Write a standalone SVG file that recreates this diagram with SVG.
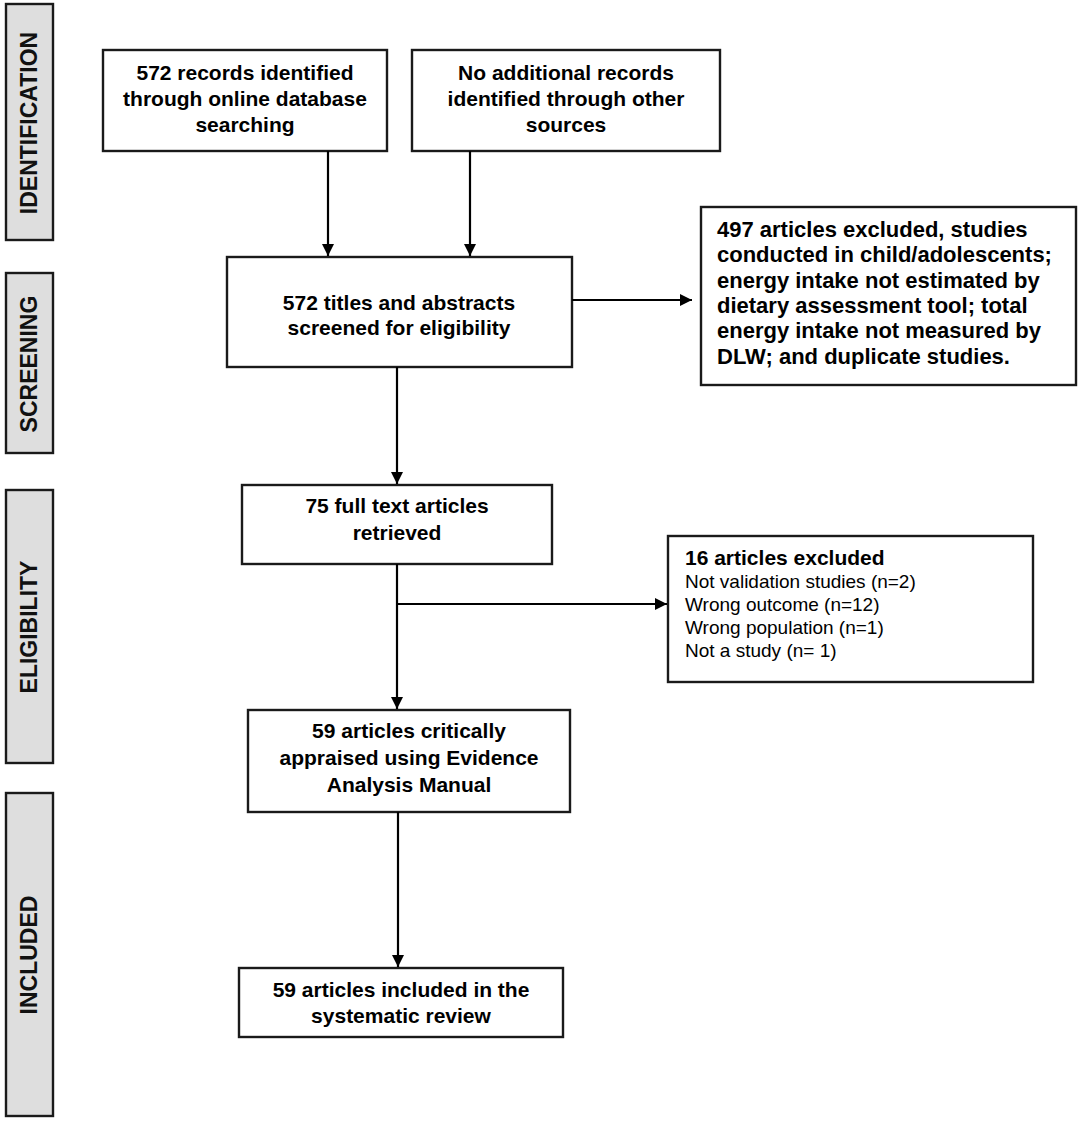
<svg xmlns="http://www.w3.org/2000/svg" width="1084" height="1121" viewBox="0 0 1084 1121">
<defs>
<marker id="ah" viewBox="0 0 12 12" refX="12" refY="6" markerWidth="12" markerHeight="12" markerUnits="userSpaceOnUse" orient="auto">
<path d="M0,0 L12,6 L0,12 Z" fill="#000"/>
</marker>
<style>
.box{fill:#fff;stroke:#1a1a1a;stroke-width:2.4}
.bar{fill:#dedede;stroke:#1a1a1a;stroke-width:2.4}
.t{font-family:"Liberation Sans",Arial,sans-serif;font-weight:bold;font-size:21px;fill:#000;text-anchor:middle}
.tl{font-family:"Liberation Sans",Arial,sans-serif;font-weight:bold;font-size:22px;fill:#000}
.r{font-family:"Liberation Sans",Arial,sans-serif;font-size:19px;fill:#000}
.rb{font-family:"Liberation Sans",Arial,sans-serif;font-weight:bold;font-size:21px;fill:#000}
.lab{font-family:"Liberation Sans",Arial,sans-serif;font-weight:bold;font-size:23px;fill:#111;text-anchor:middle}
.c{fill:none;stroke:#000;stroke-width:2.2}
</style>
</defs>
<rect width="1084" height="1121" fill="#fff"/>

<g id="bar-identification">
<rect class="bar" x="6" y="4" width="47" height="236"/>
<text class="lab" transform="translate(37,123) rotate(-90)">IDENTIFICATION</text>
</g>
<g id="bar-screening">
<rect class="bar" x="6" y="273" width="47" height="180"/>
<text class="lab" transform="translate(37,364) rotate(-90)">SCREENING</text>
</g>
<g id="bar-eligibility">
<rect class="bar" x="6" y="490" width="47" height="273"/>
<text class="lab" transform="translate(37,627) rotate(-90)">ELIGIBILITY</text>
</g>
<g id="bar-included">
<rect class="bar" x="6" y="793" width="47" height="323"/>
<text class="lab" transform="translate(37,955) rotate(-90)">INCLUDED</text>
</g>

<g id="n1">
<rect class="box" x="103" y="50" width="284" height="101"/>
<text class="t" x="245" y="80">572 records identified</text>
<text class="t" x="245" y="106">through online database</text>
<text class="t" x="245" y="132">searching</text>
</g>
<g id="n2">
<rect class="box" x="412" y="50" width="308" height="101"/>
<text class="t" x="566" y="80">No additional records</text>
<text class="t" x="566" y="106">identified through other</text>
<text class="t" x="566" y="132">sources</text>
</g>
<g id="n3">
<rect class="box" x="227" y="257" width="345" height="110"/>
<text class="t" x="399" y="310">572 titles and abstracts</text>
<text class="t" x="399" y="335">screened for eligibility</text>
</g>
<g id="n4">
<rect class="box" x="701" y="207" width="375" height="178"/>
<text class="tl" x="717" y="237">497 articles excluded, studies</text>
<text class="tl" x="717" y="262">conducted in child/adolescents;</text>
<text class="tl" x="717" y="288">energy intake not estimated by</text>
<text class="tl" x="717" y="313">dietary assessment tool; total</text>
<text class="tl" x="717" y="338">energy intake not measured by</text>
<text class="tl" x="717" y="364">DLW; and duplicate studies.</text>
</g>
<g id="n5">
<rect class="box" x="242" y="485" width="310" height="79"/>
<text class="t" x="397" y="513">75 full text articles</text>
<text class="t" x="397" y="540">retrieved</text>
</g>
<g id="n6">
<rect class="box" x="668" y="536" width="365" height="146"/>
<text class="rb" x="685" y="565">16 articles excluded</text>
<text class="r" x="685" y="588">Not validation studies (n=2)</text>
<text class="r" x="685" y="611">Wrong outcome (n=12)</text>
<text class="r" x="685" y="634">Wrong population (n=1)</text>
<text class="r" x="685" y="657">Not a study (n= 1)</text>
</g>
<g id="n7">
<rect class="box" x="248" y="710" width="322" height="102"/>
<text class="t" x="409" y="738">59 articles critically</text>
<text class="t" x="409" y="765">appraised using Evidence</text>
<text class="t" x="409" y="792">Analysis Manual</text>
</g>
<g id="n8">
<rect class="box" x="239" y="968" width="324" height="69"/>
<text class="t" x="401" y="997">59 articles included in the</text>
<text class="t" x="401" y="1023">systematic review</text>
</g>

<g id="connectors">
<line class="c" x1="328" y1="151" x2="328" y2="256" marker-end="url(#ah)"/>
<line class="c" x1="470" y1="151" x2="470" y2="256" marker-end="url(#ah)"/>
<line class="c" x1="572" y1="300" x2="692" y2="300" marker-end="url(#ah)"/>
<line class="c" x1="397" y1="367" x2="397" y2="484" marker-end="url(#ah)"/>
<line class="c" x1="397" y1="564" x2="397" y2="709" marker-end="url(#ah)"/>
<line class="c" x1="397" y1="604" x2="667" y2="604" marker-end="url(#ah)"/>
<line class="c" x1="398" y1="812" x2="398" y2="967" marker-end="url(#ah)"/>
</g>
</svg>
